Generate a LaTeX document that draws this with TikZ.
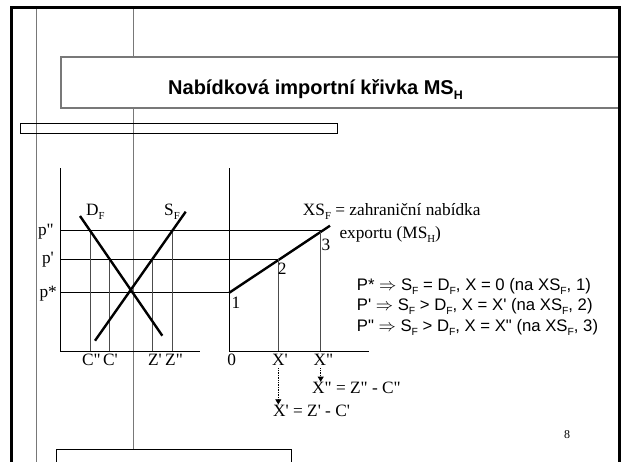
\documentclass[tikz,border=0pt]{standalone}
\usepackage{fontspec}
\setmainfont{Liberation Serif}
\setsansfont{Liberation Sans}
\definecolor{guidegray}{RGB}{120,120,120}
\usetikzlibrary{arrows.meta, positioning, calc}
\newcommand{\pr}{\textquotesingle}
\newcommand{\ppr}{\textquotedbl}
\newcommand{\subs}[1]{\raisebox{-0.25em}{\scalebox{0.62}{#1}}}

\begin{document}
\begin{tikzpicture}[x=1pt, y=-1pt,
  axis/.style={black, line width=1pt},
  curve/.style={black, line width=2.4pt},
  level/.style={black, line width=0.8pt},
  drop/.style={black!70, line width=0.8pt},
  guide/.style={guidegray, line width=1pt},
  lbl/.style={inner sep=0pt, font=\fontsize{17.3}{19}\selectfont},
  note/.style={inner sep=0pt, anchor=base west, font=\sffamily\fontsize{16.7}{19}\selectfont},
  dotarrow/.style={densely dotted, line width=0.7pt, -{Triangle[width=6pt,length=5pt]}}
]
  \useasboundingbox (0,0) rectangle (621,461);
  \clip (0,0) rectangle (621,461);

  % slide layout
  \draw[guide] (36,8) -- (36,470);
  \draw[guide] (133,8) -- (133,449);
  \draw[guide, line width=1.5pt, fill=white] (621,57) -- (61,57) -- (61,108) -- (621,108);
  \draw[black, line width=0.8pt] (20,123.5) rectangle (337,133);
  \draw[black, line width=1pt] (56,449) rectangle (291,470);
  \draw[line width=2.5pt] (11.5,470) -- (11.5,7.5) -- (619.5,7.5) -- (619.5,470);
  \node[inner sep=0pt, anchor=base, font=\sffamily\bfseries\fontsize{20}{22}\selectfont] (title)
    at (315.5,94) {Nabídková importní křivka MS\subs{H}};

  % domestic market of F
  \draw[axis] (60.7,168) -- (60.7,351) -- (200,351);
  \draw[level] (60.7,230.3) -- (320.7,230.3);
  \draw[level] (60.7,259.3) -- (278.3,259.3);
  \draw[level] (60.7,292.7) -- (229.3,292.7);
  \foreach \x/\y in {90/230.3, 109.5/259.3, 152.5/259.3, 172/230.3}
    \draw[drop] (\x,\y) -- (\x,351);
  \draw[curve] (80,216) -- (162.3,335.7);
  \draw[curve] (95,340.7) -- (185.7,211.7);

  \node[lbl, anchor=east] (ppp) at (54,232) {p\ppr};
  \node[lbl, anchor=east] (pp) at (54,260) {p\pr};
  \node[lbl, anchor=east] (pst) at (57,294) {p*};
  \node[lbl, anchor=base west] (df) at (86,215) {D\subs{F}};
  \node[lbl, anchor=base west] (sf) at (164,215) {S\subs{F}};
  \node[lbl, anchor=base] (cpp) at (91.5,365) {C\ppr};
  \node[lbl, anchor=base] (cp) at (110.5,365) {C\pr};
  \node[lbl, anchor=base] (zp) at (155,365) {Z\pr};
  \node[lbl, anchor=base] (zpp) at (174,365) {Z\ppr};

  % export supply
  \draw[axis] (229.3,168) -- (229.3,351) -- (369,351);
  \draw[curve] (229.3,292.7) -- (330,225.7);
  \draw[drop] (278.3,259.3) -- (278.3,351);
  \draw[drop] (320.7,232) -- (320.7,351);

  \node[lbl, anchor=base] (one) at (236,308.3) {1};
  \node[lbl, anchor=base] (two) at (282.3,274) {2};
  \node[lbl, anchor=base] (three) at (326,250) {3};
  \node[lbl, anchor=base] (zero) at (231.7,365) {0};
  \node[lbl, anchor=base] (xp) at (280,365) {X\pr};
  \node[lbl, anchor=base] (xpp) at (323.3,365) {X\ppr};
  \node[lbl, anchor=base west] (xsf) at (302.7,215.5) {XS\subs{F} = zahraniční nabídka};
  \node[lbl, anchor=base west] (xsf2) at (339.3,238) {exportu (MS\subs{H})};

  \node[lbl, anchor=base west] (xppeq) at (312,393.3) {X\ppr{} = Z\ppr{} - C\ppr};
  \node[lbl, anchor=base west] (xpeq) at (273,416) {X\pr{} = Z\pr{} - C\pr};
  \draw[dotarrow] (xpp.south -| 320.7,0) ++(0,3) -- (xppeq.north -| 320.7,0);
  \draw[dotarrow] (xp.south -| 278.3,0) ++(0,3) -- (xpeq.north -| 278.3,0);

  \node[note] (cond1) at (356.7,290) {P* $\Rightarrow$ S\subs{F} = D\subs{F}, X = 0 (na XS\subs{F}, 1)};
  \node[note] (cond2) at (356.7,310.7) {P\pr{} $\Rightarrow$ S\subs{F} > D\subs{F}, X = X\pr{} (na XS\subs{F}, 2)};
  \node[note] (cond3) at (356.7,331.7) {P\ppr{} $\Rightarrow$ S\subs{F} > D\subs{F}, X = X\ppr{} (na XS\subs{F}, 3)};

  \node[inner sep=0pt, anchor=base, font=\fontsize{12}{14}\selectfont] (page) at (567,438.3) {8};
\end{tikzpicture}
\end{document}
